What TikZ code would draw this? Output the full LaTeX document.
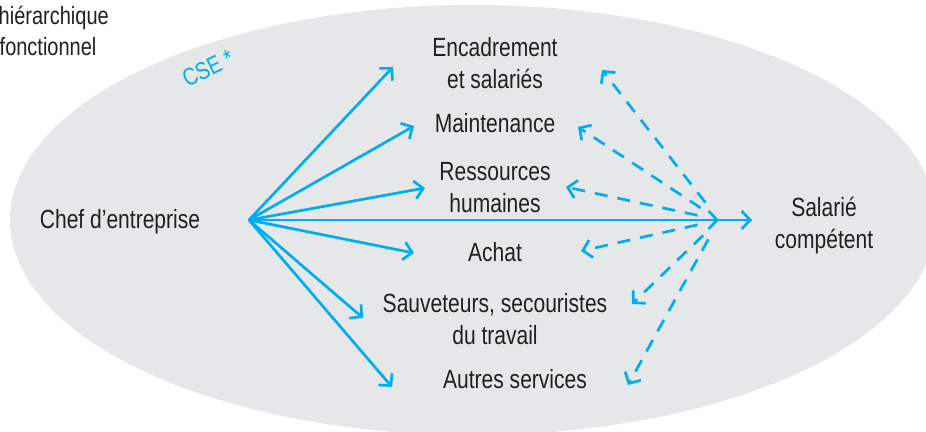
\documentclass[tikz,border=0pt]{standalone}
\usepackage{fontspec}
\setmainfont{Liberation Sans}[FakeStretch=0.8]
\usetikzlibrary{arrows.meta}
\definecolor{cse}{RGB}{0,174,239}
\definecolor{bg}{RGB}{230,231,232}
\definecolor{ink}{RGB}{35,31,32}
\begin{document}
\begin{tikzpicture}[x=1pt,y=-1pt,
  lbl/.style={font=\fontsize{26.3}{31.5}\selectfont, text=ink, align=center, inner sep=0pt, anchor=base},
  legend/.style={font=\fontsize{25}{30}\selectfont, text=ink, inner sep=0pt, anchor=base west},
  sol/.style={draw=cse, line width=2.7pt, -{Straight Barb[length=8.5pt,width=18pt]}},
  dsh/.style={sol, dash pattern=on 13pt off 10pt, shorten <=22pt}]
\useasboundingbox (0,0) rectangle (926,431);
\fill[bg] (473,220) ellipse [x radius=463, y radius=215];
% legend (cropped)
\node[legend] (leg1) at (-1.5,24) {hiérarchique};
\node[legend] (leg2) at (-0.5,55) {fonctionnel};
\node[font=\fontsize{24.5}{24.5}\selectfont, text=cse, rotate=26, inner sep=0pt] (cselbl) at (208,68) {CSE *};
% labels (base = last line)
\node[lbl] (enc) at (495,88) {Encadrement\\et salariés};
\node[lbl] (mai) at (495,132) {Maintenance};
\node[lbl] (rh) at (495,212) {Ressources\\humaines};
\node[lbl] (ach) at (495,261) {Achat};
\node[lbl] (sau) at (495,344) {Sauveteurs, secouristes\\du travail};
\node[lbl] (aut) at (515,388) {Autres services};
\node[lbl] (chef) at (120,228) {Chef d’entreprise};
\node[lbl] (sal) at (824,248) {Salarié\\compétent};
% connector points
\coordinate (src) at (249,220);
\coordinate (hub) at (719,220);
\coordinate (salin) at (752,220);
\coordinate (tEnc) at (393,67);
\coordinate (tMai) at (414,126);
\coordinate (tRh) at (425,188);
\coordinate (tAch) at (414,253);
\coordinate (tSau) at (363,318);
\coordinate (tAut) at (392,387);
\coordinate (dEnc) at (602,70);
\coordinate (dMai) at (578,127);
\coordinate (dRh) at (566,187);
\coordinate (dAch) at (581,251);
\coordinate (dSau) at (632,304);
\coordinate (dAut) at (628,385);
% solid arrows
\foreach \t in {tEnc,tMai,tRh,tAch,tSau,tAut,hub} \draw[sol] (src) -- (\t);
\draw[sol] (hub) -- (salin);
% dashed arrows
\foreach \t in {dEnc,dMai,dRh,dAch,dSau,dAut} \draw[dsh] (hub) -- (\t);
\end{tikzpicture}
\end{document}
